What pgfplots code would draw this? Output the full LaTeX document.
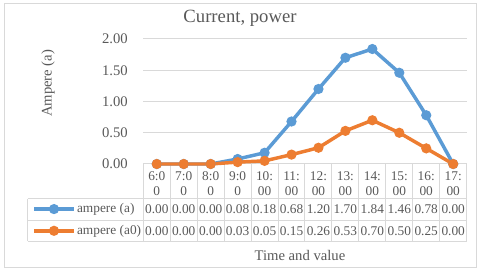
\documentclass[border=0pt]{standalone}
\usepackage{pgfplots}
\pgfplotsset{compat=1.18}
\usepackage{fontspec}
\setmainfont{Liberation Serif}
\definecolor{cblue}{HTML}{5B9BD5}
\definecolor{corange}{HTML}{ED7D31}
\definecolor{tgray}{HTML}{595959}
\definecolor{ggray}{HTML}{D9D9D9}
\pgfplotstableread{
x a a0
0 0.00 0.00
1 0.00 0.00
2 0.00 0.00
3 0.08 0.03
4 0.18 0.05
5 0.68 0.15
6 1.20 0.26
7 1.70 0.53
8 1.84 0.70
9 1.46 0.50
10 0.78 0.25
11 0.00 0.00
}\datatable
\begin{document}
\begin{tikzpicture}[x=1pt,y=1pt]
\path[use as bounding box] (0,0) rectangle (360,204);
\draw[ggray, line width=0.75pt] (3.75,3.6) rectangle (357.4,201);
% table grid
\foreach \k in {0,...,12} {
  \draw[ggray, line width=0.75pt] ({107.5+20.2083*\k},81) -- ({107.5+20.2083*\k},23.2);
}
\draw[ggray, line width=0.75pt] (21,55) -- (350,55);
\draw[ggray, line width=0.75pt] (21,38.7) -- (350,38.7);
\draw[ggray, line width=0.75pt] (21,23.2) -- (350,23.2);
\draw[ggray, line width=0.75pt] (21,55) -- (21,23.2);
\node[font=\fontsize{14}{16}\selectfont, text=tgray, inner sep=0pt] at (180,190.3) {Current, power};
\begin{axis}[
  at={(107.5pt,81pt)}, anchor=south west,
  scale only axis, width=242.5pt, height=93.75pt,
  xmin=-0.5, xmax=11.5, ymin=0, ymax=2,
  clip=false,
  axis line style={draw=none},
  major tick length=0pt,
  ymajorgrids, grid style={ggray, line width=0.75pt},
  ytick={0,0.5,1,1.5,2},
  /pgf/number format/assume math mode=true,
  yticklabel style={/pgf/number format/.cd, fixed, fixed zerofill, precision=2, /tikz/.cd,
     font=\fontsize{11}{13}\selectfont, text=tgray, inner sep=0pt, xshift=-11.5pt},
  xtick={0,...,11},
  xticklabels={{6:0\\0},{7:0\\0},{8:0\\0},{9:0\\0},{10:\\00},{11:\\00},{12:\\00},{13:\\00},{14:\\00},{15:\\00},{16:\\00},{17:\\00}},
  xticklabel style={align=center, font=\fontsize{10}{11.25}\selectfont, text=tgray, inner sep=0pt, yshift=-5.5pt},
  ylabel={Ampere (a)},
  ylabel style={at={(axis description cs:-0.2948,0.645)}, anchor=center, font=\fontsize{11}{13}\selectfont, text=tgray},
  xlabel={Time and value},
  xlabel style={at={(axis description cs:0.4845,-0.728)}, anchor=center, font=\fontsize{11}{13}\selectfont, text=tgray},
  legend style={at={(axis description cs:-0.3443,-0.4475)}, anchor=west, draw=none, fill=none, inner sep=0pt,
     font=\fontsize{10}{12}\selectfont, text=tgray, row sep=7.3pt,
     nodes={inner sep=0pt, text height=7pt, text depth=2pt}},
  legend cell align=left,
  legend image code/.code={\draw[mark repeat=2,mark phase=2,#1] plot coordinates {(0pt,0pt) (15pt,0pt) (30pt,0pt)};},
  every axis legend/.append style={/tikz/every odd column/.append style={column sep=1pt}},
]
\addplot[cblue, line width=2.6pt, mark=*, mark size=3.2pt, mark options={solid, fill=cblue, line width=1.2pt}] table[x=x, y=a] {\datatable};
\addlegendentry{ampere (a)}
\addplot[corange, line width=2.6pt, mark=*, mark size=3.2pt, mark options={solid, fill=corange, line width=1.2pt}] table[x=x, y=a0] {\datatable};
\addlegendentry{ampere (a0)}
\end{axis}
% data table values
\foreach \v [count=\i from 0] in {0.00,0.00,0.00,0.08,0.18,0.68,1.20,1.70,1.84,1.46,0.78,0.00} {
  \node[font=\fontsize{10}{12}\selectfont, text=tgray, inner sep=0pt] at ({107.5+20.2083*(\i+0.5)},46.85) {\v};
}
\foreach \v [count=\i from 0] in {0.00,0.00,0.00,0.03,0.05,0.15,0.26,0.53,0.70,0.50,0.25,0.00} {
  \node[font=\fontsize{10}{12}\selectfont, text=tgray, inner sep=0pt] at ({107.5+20.2083*(\i+0.5)},30.95) {\v};
}
\end{tikzpicture}
\end{document}
